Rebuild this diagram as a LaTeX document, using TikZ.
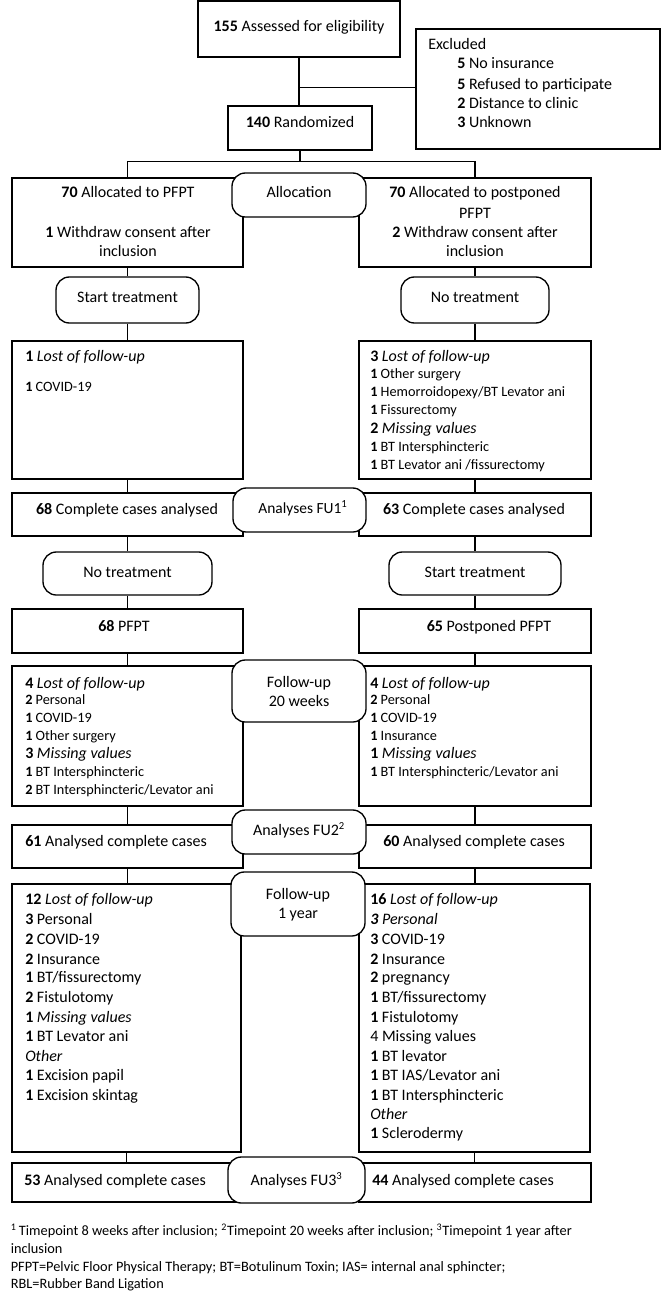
\documentclass[tikz,border=0pt]{standalone}
\usepackage{fontspec}
\setmainfont{Carlito}
\usetikzlibrary{fit}
\newcommand\fszA{\fontsize{12pt}{14.5pt}\selectfont}
\newcommand\fszB{\fontsize{10.7pt}{13pt}\selectfont}
\newcommand\fszC{\fontsize{10.75pt}{13.5pt}\selectfont}
\begin{document}
\begin{tikzpicture}[x=0.75pt,y=-0.75pt,
  box/.style={draw, line width=1pt, inner sep=0pt, rectangle},
  rbox/.style={draw, line width=1pt, inner sep=0pt, rounded corners=10pt, fill=white, align=center, font=\fszA},
  conn/.style={line width=0.9pt},
  tw/.style={anchor=base west, inner sep=0pt, yshift=-3.75pt, font=\fszA},
  tws/.style={anchor=base west, inner sep=0pt, yshift=-3.4pt, font=\fszB},
  tc/.style={anchor=base, inner sep=0pt, yshift=-3.75pt, font=\fszA},
  tf/.style={anchor=base west, inner sep=0pt, yshift=-3.4pt, font=\fszC}]
\useasboundingbox (0,0) rectangle (662,1298);

% ---------- boxes ----------
\node[box, fit={(198,1) (400,57)}] (top) {};
\node[box, fit={(416,29) (660,149)}] (excl) {};
\node[box, fit={(228,106) (372,150)}] (rand) {};
\node[box, fit={(12,178) (243,267)}] (aL) {};
\node[box, fit={(359,178) (591,267)}] (aR) {};
\node[box, rounded corners=10pt, fit={(56,277) (199,323)}] (st1) {};
\node[box, rounded corners=10pt, fit={(401,277) (549,323)}] (nt1) {};
\node[box, fit={(12,341) (243,479)}] (lL1) {};
\node[box, fit={(359,341) (591,479)}] (lR1) {};
\node[box, fit={(12,493) (243,536)}] (aL1) {};
\node[box, fit={(359,493) (591,536)}] (aR1) {};
\node[box, rounded corners=10pt, fit={(43,552) (212,595)}] (nt2) {};
\node[box, rounded corners=10pt, fit={(389,552) (561,595)}] (st2) {};
\node[box, fit={(12,609) (243,653)}] (p68) {};
\node[box, fit={(359,609) (591,653)}] (p65) {};
\node[box, fit={(12,666) (243,806)}] (l20L) {};
\node[box, fit={(359,666) (591,806)}] (l20R) {};
\node[box, fit={(12,825) (243,868)}] (a2L) {};
\node[box, fit={(359,825) (591,868)}] (a2R) {};
\node[box, fit={(12,884) (241,1152)}] (y1L) {};
\node[box, fit={(359,884) (590,1152)}] (y1R) {};
\node[box, fit={(12,1163) (241,1202)}] (a3L) {};
\node[box, fit={(359,1163) (591,1202)}] (a3R) {};

% ---------- connectors ----------
\draw[conn] (top.south) -- (top.south |- rand.north);
\path (top.south) ++(0,30) coordinate (j1);
\draw[conn] (j1) -- (j1 -| excl.west);
\path (rand.south) ++(0,11) coordinate (sp);
\draw[conn] (rand.south) -- (sp);
\draw[conn] (aL.north) |- (sp) -| (aR.north);
\foreach \a/\b in {aL/st1, st1/lL1, lL1/aL1, aL1/nt2, nt2/p68, p68/l20L, l20L/a2L, a2L/y1L, y1L/a3L,
                   aR/nt1, nt1/lR1, lR1/aR1, aR1/st2, st2/p65, p65/l20R, l20R/a2R, a2R/y1R, y1R/a3R}
  \draw[conn] (\a.south) -- (\a.south |- \b.north);

% ---------- rounded stage labels ----------
\node[rbox, fit={(232,173) (366,217)}] (allocr) {};
\node[tc] (allocT) at (299,193) {Allocation};
\node[rbox, fit={(233,488) (366,532)}] (fu1r) {};
\node[tc, font=\fontsize{11.6pt}{14pt}\selectfont] (fu1T) at (303,508) {Analyses FU1\textsuperscript{1}};
\node[rbox, fit={(232,660) (366,722)}] (fu20r) {};
\node[tc] (fu20T1) at (299,682) {Follow-up};
\node[tc] (fu20T2) at (299,701) {20 weeks};
\node[rbox, fit={(232,810) (366,854)}] (fu2r) {};
\node[tc] (fu2T) at (299,830) {Analyses FU2\textsuperscript{2}};
\node[rbox, fit={(231,872) (365,936)}] (fu1yr) {};
\node[tc] (fu1yT1) at (298,894) {Follow-up};
\node[tc] (fu1yT2) at (298,913) {1 year};
\node[rbox, fit={(228,1157) (365,1203)}] (fu3r) {};
\node[tc] (fu3T) at (296.5,1180) {Analyses FU3\textsuperscript{3}};

% ---------- texts ----------
\node[tc] (topT) at (299,27) {\textbf{155} Assessed for eligibility};
\node[tw] (ex0) at (428,45) {Excluded};
\node[tw] (ex1) at (457,64) {\textbf{5} No insurance};
\node[tw] (ex2) at (457,85) {\textbf{5} Refused to participate};
\node[tw] (ex3) at (457,104) {\textbf{2} Distance to clinic};
\node[tw] (ex4) at (457,123) {\textbf{3} Unknown};
\node[tc] (randT) at (300,123) {\textbf{140} Randomized};

\node[tc] (aL1T) at (128,193) {\textbf{70} Allocated to PFPT};
\node[tc] (aL2T) at (128,233) {\textbf{1} Withdraw consent after};
\node[tc] (aL3T) at (128,252) {inclusion};
\node[tc] (aR1T) at (475,193) {\textbf{70} Allocated to postponed};
\node[tc] (aR2T) at (475,214) {PFPT};
\node[tc] (aR3T) at (475,233) {\textbf{2} Withdraw consent after};
\node[tc] (aR4T) at (475,252) {inclusion};

\node[tc] (st1T) at (127.5,297) {Start treatment};
\node[tc] (nt1T) at (475,297) {No treatment};

\node[tw] (lL1a) at (25,356) {\textbf{1} \textit{Lost of follow-up}};
\node[tws] (lL1b) at (25,387) {\textbf{1} COVID-19};

\node[tw] (lR1a) at (370,356) {\textbf{3} \textit{Lost of follow-up}};
\node[tws] (lR1b) at (370,374) {\textbf{1} Other surgery};
\node[tws] (lR1c) at (370,392) {\textbf{1} Hemorroidopexy/BT Levator ani};
\node[tws] (lR1d) at (370,410) {\textbf{1} Fissurectomy};
\node[tw] (lR1e) at (370,428) {\textbf{2} \textit{Missing values}};
\node[tws] (lR1f) at (370,447) {\textbf{1} BT Intersphincteric};
\node[tws] (lR1g) at (370,465) {\textbf{1} BT Levator ani /fissurectomy};

\node[tc] (aL1T) at (127,509) {\textbf{68} Complete cases analysed};
\node[tc] (aR1T) at (474,509) {\textbf{63} Complete cases analysed};

\node[tc] (nt2T) at (127.5,572) {No treatment};
\node[tc] (st2T) at (475,572) {Start treatment};
\node[tc] (p68T) at (124,626) {\textbf{68} PFPT};
\node[tc] (p65T) at (489,626) {\textbf{65} Postponed PFPT};

\node[tw] (l20La) at (25,683) {\textbf{4} \textit{Lost of follow-up}};
\node[tws] (l20Lb) at (25,700) {\textbf{2} Personal};
\node[tws] (l20Lc) at (25,718) {\textbf{1} COVID-19};
\node[tws] (l20Ld) at (25,736) {\textbf{1} Other surgery};
\node[tw] (l20Le) at (25,753) {\textbf{3} \textit{Missing values}};
\node[tws] (l20Lf) at (25,772) {\textbf{1} BT Intersphincteric};
\node[tws] (l20Lg) at (25,790) {\textbf{2} BT Intersphincteric/Levator ani};

\node[tw] (l20Ra) at (370,683) {\textbf{4} \textit{Lost of follow-up}};
\node[tws] (l20Rb) at (370,700) {\textbf{2} Personal};
\node[tws] (l20Rc) at (370,718) {\textbf{1} COVID-19};
\node[tws] (l20Rd) at (370,736) {\textbf{1} Insurance};
\node[tw] (l20Re) at (370,753) {\textbf{1} \textit{Missing values}};
\node[tws] (l20Rf) at (370,772) {\textbf{1} BT Intersphincteric/Levator ani};

\node[tw] (a2LT) at (25,841) {\textbf{61} Analysed complete cases};
\node[tw] (a2RT) at (383,841) {\textbf{60} Analysed complete cases};

\node[tw] (y1La) at (25,899) {\textbf{12} \textit{Lost of follow-up}};
\node[tw] (y1Lb) at (25,919) {\textbf{3} Personal};
\node[tw] (y1Lc) at (25,939) {\textbf{2} COVID-19};
\node[tw] (y1Ld) at (25,959) {\textbf{2} Insurance};
\node[tw] (y1Le) at (25,977) {\textbf{1} BT/fissurectomy};
\node[tw] (y1Lf) at (25,997) {\textbf{2} Fistulotomy};
\node[tw] (y1Lg) at (25,1017) {\textbf{1} \textit{Missing values}};
\node[tw] (y1Lh) at (25,1036) {\textbf{1} BT Levator ani};
\node[tw] (y1Li) at (25,1056) {\textit{Other}};
\node[tw] (y1Lj) at (25,1075) {\textbf{1} Excision papil};
\node[tw] (y1Lk) at (25,1095) {\textbf{1} Excision skintag};

\node[tw] (y1Ra) at (370,899) {\textbf{16} \textit{Lost of follow-up}};
\node[tw] (y1Rb) at (370,919) {\textbf{\textit{3}} \textit{Personal}};
\node[tw] (y1Rc) at (370,939) {\textbf{3} COVID-19};
\node[tw] (y1Rd) at (370,959) {\textbf{2} Insurance};
\node[tw] (y1Re) at (370,977) {\textbf{2} pregnancy};
\node[tw] (y1Rf) at (370,997) {\textbf{1} BT/fissurectomy};
\node[tw] (y1Rg) at (370,1017) {\textbf{1} Fistulotomy};
\node[tw] (y1Rh) at (370,1036) {4 Missing values};
\node[tw] (y1Ri) at (370,1056) {\textbf{1} BT levator};
\node[tw] (y1Rj) at (370,1075) {\textbf{1} BT IAS/Levator ani};
\node[tw] (y1Rk) at (370,1095) {\textbf{1} BT Intersphincteric};
\node[tw] (y1Rl) at (370,1114) {\textit{Other}};
\node[tw] (y1Rm) at (370,1133) {\textbf{1} Sclerodermy};

\node[tw] (a3LT) at (24,1180) {\textbf{53} Analysed complete cases};
\node[tw] (a3RT) at (372,1180) {\textbf{44} Analysed complete cases};

% ---------- footnotes ----------
\node[tf] (fn1) at (10.5,1231) {\textsuperscript{1}\,Timepoint 8 weeks after inclusion; \textsuperscript{2}Timepoint 20 weeks after inclusion; \textsuperscript{3}Timepoint 1 year after};
\node[tf] (fn2) at (10.5,1249) {inclusion};
\node[tf] (fn3) at (10.5,1267) {PFPT=Pelvic Floor Physical Therapy; BT=Botulinum Toxin; IAS= internal anal sphincter;};
\node[tf] (fn4) at (10.5,1284) {RBL=Rubber Band Ligation};
\end{tikzpicture}
\end{document}
